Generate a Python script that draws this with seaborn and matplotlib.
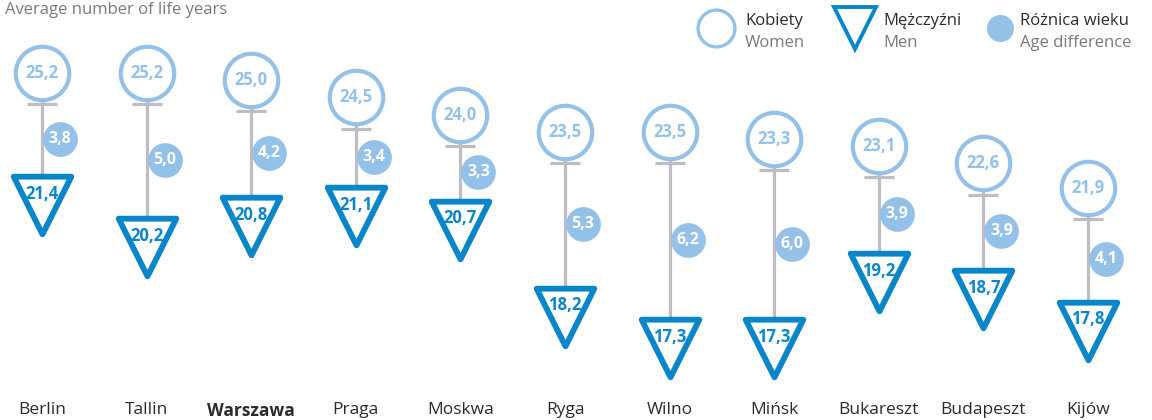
"""Oczekiwana dalsza długość życia: kobiety vs mężczyźni w stolicach regionu (seaborn)."""

import matplotlib
matplotlib.use("Agg")                       # bez okna, tylko zapis do pliku
import matplotlib.pyplot as plt
import matplotlib.transforms as mtrans
from matplotlib.lines import Line2D
import pandas as pd
import seaborn as sns

# dane
cities = ["Berlin", "Tallin", "Warszawa", "Praga", "Moskwa", "Ryga",
          "Wilno", "Mińsk", "Bukareszt", "Budapeszt", "Kijów"]
women = [25.2, 25.2, 25.0, 24.5, 24.0, 23.5, 23.5, 23.3, 23.1, 22.6, 21.9]
men = [21.4, 20.2, 20.8, 21.1, 20.7, 18.2, 17.3, 17.3, 19.2, 18.7, 17.8]
diff = [3.8, 5.0, 4.2, 3.4, 3.3, 5.3, 6.2, 6.0, 3.9, 3.9, 4.1]
highlight = "Warszawa"

LIGHT = "#94C1E8"
DARK = "#0986CA"
GREY = "#BEBEC2"
TXT = "#2B2B2B"
SUB = "#7A7A7A"

sns.set_theme(style="white")
plt.rcParams["font.family"] = ["Open Sans", "DejaVu Sans"]

df = pd.DataFrame({"city": cities, "women": women, "men": men, "diff": diff})
df["x"] = range(len(df))
df["mid"] = (df["women"] + df["men"]) / 2


def pl(v):
    return f"{v:.1f}".replace(".", ",")


fig = plt.figure(figsize=(11.52, 4.2), dpi=100)
ax = fig.add_axes([0, 28 / 420, 1, 392 / 420])


def shift(dx, dy):
    # przesunięcie w punktach względem współrzędnych danych
    return mtrans.offset_copy(ax.transData, fig=fig, x=dx, y=dy, units="points")


# łącznik kobiety-mężczyźni z "wąsami" przy krawędziach znaczników
ax.vlines(df["x"], df["men"], df["women"], color=GREY, lw=2.3, zorder=1)
ax.plot(df["x"], df["women"], ls="none", marker="_", ms=21, mew=2.3,
        color=GREY, transform=shift(0, -22.5), zorder=1)
ax.plot(df["x"], df["men"], ls="none", marker="_", ms=21, mew=2.3,
        color=GREY, transform=shift(0, 19), zorder=1)

# kobiety: puste kółka
sns.scatterplot(data=df, x="x", y="women", marker="o", s=38.5 ** 2,
                color="white", edgecolor=LIGHT, linewidth=3.0, zorder=3, ax=ax)
# mężczyźni: trójkąty
sns.scatterplot(data=df, x="x", y="men", marker="v", s=41.5 ** 2,
                color="white", edgecolor=DARK, linewidth=4.2, zorder=3, ax=ax)
# różnica: pełne kółko obok łącznika
sns.scatterplot(data=df, x="x", y="mid", marker="o", s=25 ** 2,
                color=LIGHT, linewidth=0, zorder=3, ax=ax, transform=shift(13, 0))

for _, r in df.iterrows():
    ax.text(r["x"], r["women"], pl(r["women"]), ha="center", va="center",
            color=LIGHT, fontsize=12, fontweight="bold", zorder=4)
    ax.text(r["x"], r["men"], pl(r["men"]), ha="center", va="center",
            color=DARK, fontsize=12, fontweight="bold", zorder=4,
            transform=shift(0, 8))
    ax.text(r["x"], r["mid"], pl(r["diff"]), ha="center", va="center",
            color="white", fontsize=11.5, fontweight="bold", zorder=4,
            transform=shift(13, 0))

# skala: 104.6 px na miasto, 34.8 px na rok
ax.set_xlim(-42 / 104.6, -42 / 104.6 + 1152 / 104.6)
ax.set_ylim(25.2 - (392 - 73) / 34.8, 25.2 + 73 / 34.8)
ax.set_xticks(df["x"], df["city"])
ax.set_yticks([])
ax.set_xlabel("")
ax.set_ylabel("")
ax.tick_params(axis="x", length=0, pad=7.5, labelsize=12.5, labelcolor=TXT)
for lab in ax.get_xticklabels():
    if lab.get_text() == highlight:
        lab.set_fontweight("bold")
sns.despine(ax=ax, left=True, bottom=True)

# podtytuł
fig.text(5 / 1152, 1 - 14 / 420, "Average number of life years",
         va="baseline", ha="left", color=SUB, fontsize=12)

# legenda ręczna: polski opis + angielski pod spodem
legend_items = [
    (716, 29, dict(marker="o", ms=26.5, mfc="white", mec=LIGHT, mew=2.4),
     "Kobiety", "Women"),
    (855, 28, dict(marker="v", ms=30, mfc="white", mec=DARK, mew=2.8),
     "Mężczyźni", "Men"),
    (1000, 20, dict(marker="o", ms=19.5, mfc=LIGHT, mec=LIGHT, mew=0),
     "Różnica wieku", "Age difference"),
]
for px, x_off, style, pl_lab, en_lab in legend_items:
    fig.add_artist(Line2D([px / 1152], [1 - 28 / 420], transform=fig.transFigure,
                          ls="none", **style))
    fig.text((px + x_off) / 1152, 1 - 25 / 420, pl_lab, va="baseline",
             ha="left", color=TXT, fontsize=12)
    fig.text((px + x_off) / 1152, 1 - 47 / 420, en_lab, va="baseline",
             ha="left", color=SUB, fontsize=12)

fig.savefig("out.png", dpi=100)
plt.close(fig)
